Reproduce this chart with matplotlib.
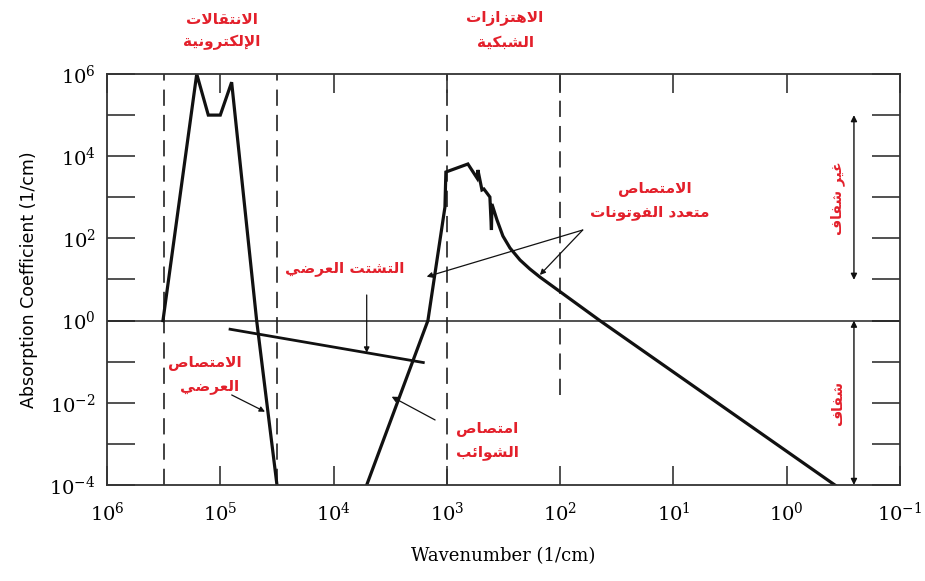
import numpy as np
import matplotlib
matplotlib.use("Agg")
import matplotlib.pyplot as plt
from matplotlib.ticker import FixedLocator, FuncFormatter, NullLocator

# ---------------- data ----------------
# electronic transitions + Urbach tail
elec_wn = [320600, 161400, 127600, 100000, 79400, 47750, 31600]
elec_abs = [1.0, 1.0e6, 1.0e5, 1.0e5, 6.31e5, 1.0, 1.0e-4]

# impurity absorption + lattice vibrations + multiphonon absorption
latt_wn = [5100, 1470, 1040, 1020, 652, 542, 532, 490, 471, 417, 404, 400,
           361, 320, 277, 226, 185, 151, 44.6, 0.376]
latt_abs = [1.0e-4, 1.0, 575, 4120, 6460, 2950, 4610, 1510, 1590, 1016, 160, 687,
            281, 114, 58.3, 29.8, 18.0, 11.5, 1.0, 1.0e-4]

# Rayleigh scattering
scat_wn = [82000, 1614]
scat_abs = [0.617, 0.0955]

# region borders (dashed)
border_wn = [316000, 31600, 1000, 100]
border_top = [1e6, 1e6, 1e6, 1e6]
border_bottom = [1e-4, 1e-4, 1e-4, 0.0155]

x_tick_exp = [6, 5, 4, 3, 2, 1, 0, -1]
y_tick_exp = [-4, -3, -2, -1, 0, 1, 2, 3, 4, 5, 6]
y_label_exp = [-4, -2, 0, 2, 4, 6]

# ---------------- minimal Arabic shaping ----------------
FORMS = {
    'ا': ('\uFE8D', '\uFE8E', None, None),
    'إ': ('\uFE87', '\uFE88', None, None),
    'ب': ('\uFE8F', '\uFE90', '\uFE91', '\uFE92'),
    'ة': ('\uFE93', '\uFE94', None, None),
    'ت': ('\uFE95', '\uFE96', '\uFE97', '\uFE98'),
    'د': ('\uFEA9', '\uFEAA', None, None),
    'ر': ('\uFEAD', '\uFEAE', None, None),
    'ز': ('\uFEAF', '\uFEB0', None, None),
    'ش': ('\uFEB5', '\uFEB6', '\uFEB7', '\uFEB8'),
    'ص': ('\uFEB9', '\uFEBA', '\uFEBB', '\uFEBC'),
    'ض': ('\uFEBD', '\uFEBE', '\uFEBF', '\uFEC0'),
    'ع': ('\uFEC9', '\uFECA', '\uFECB', '\uFECC'),
    'غ': ('\uFECD', '\uFECE', '\uFECF', '\uFED0'),
    'ف': ('\uFED1', '\uFED2', '\uFED3', '\uFED4'),
    'ق': ('\uFED5', '\uFED6', '\uFED7', '\uFED8'),
    'ك': ('\uFED9', '\uFEDA', '\uFEDB', '\uFEDC'),
    'ل': ('\uFEDD', '\uFEDE', '\uFEDF', '\uFEE0'),
    'م': ('\uFEE1', '\uFEE2', '\uFEE3', '\uFEE4'),
    'ن': ('\uFEE5', '\uFEE6', '\uFEE7', '\uFEE8'),
    'ه': ('\uFEE9', '\uFEEA', '\uFEEB', '\uFEEC'),
    'و': ('\uFEED', '\uFEEE', None, None),
    'ي': ('\uFEF1', '\uFEF2', '\uFEF3', '\uFEF4'),
    'ئ': ('\uFE89', '\uFE8A', '\uFE8B', '\uFE8C'),
    'لا': ('\uFEFB', '\uFEFC', None, None),
    'لإ': ('\uFEF9', '\uFEFA', None, None),
}


def shape(text):
    toks = []
    i = 0
    while i < len(text):
        if text[i] == 'ل' and i + 1 < len(text) and text[i + 1] in 'اإ':
            toks.append(text[i:i + 2])
            i += 2
        else:
            toks.append(text[i])
            i += 1
    joins = lambda t: t in FORMS
    dual = lambda t: t in FORMS and FORMS[t][2] is not None
    out = []
    for k, t in enumerate(toks):
        if t not in FORMS:
            out.append(t)
            continue
        prev = k > 0 and dual(toks[k - 1])
        nxt = dual(t) and k + 1 < len(toks) and joins(toks[k + 1])
        iso, fin, ini, med = FORMS[t]
        if prev and nxt:
            out.append(med)
        elif nxt:
            out.append(ini)
        elif prev:
            out.append(fin)
        else:
            out.append(iso)
    return ''.join(out)[::-1]


# ---------------- figure ----------------
plt.rcParams['mathtext.fontset'] = 'dejavuserif'
W, H = 925, 581
fig = plt.figure(figsize=(W / 100, H / 100), dpi=100)
ax = fig.add_axes([107 / W, 1 - 485 / H, (900 - 107) / W, (485 - 74) / H])
ax.set_xscale('log')
ax.set_yscale('log')
ax.set_xlim(1e6, 1e-1)
ax.set_ylim(1e-4, 1e6)

ink = '#111111'
red = '#e3202b'

for wn, yt, yb in zip(border_wn, border_top, border_bottom):
    ax.plot([wn, wn], [yb, yt], color='#333333', lw=1.3, dashes=(9, 5))

ax.axhline(1.0, color='#222222', lw=1.1)

ax.plot(elec_wn, elec_abs, color=ink, lw=2.3, solid_joinstyle='miter')
ax.plot(latt_wn, latt_abs, color=ink, lw=2.3, solid_joinstyle='miter')
ax.plot(scat_wn, scat_abs, color=ink, lw=2.0)

arrow = dict(arrowstyle='-|>', color=ink, lw=0.9, mutation_scale=8,
             shrinkA=0, shrinkB=0)
# scattering pointer
ax.annotate('', xy=(5100, 0.165), xytext=(5100, 4.2), arrowprops=arrow)
# Urbach pointer
ax.annotate('', xy=(40300, 0.00607), xytext=(79300, 0.0155), arrowprops=arrow)
# impurity pointer
ax.annotate('', xy=(3070, 0.0141), xytext=(1270, 0.00382), arrowprops=arrow)
# multiphonon pointers
ax.annotate('', xy=(1507, 11.7), xytext=(63.2, 160), arrowprops=arrow)
ax.annotate('', xy=(151, 12.9), xytext=(63.2, 160), arrowprops=arrow)

# transparent / opaque double arrows
darrow = dict(arrowstyle='<|-|>', color=ink, lw=1.0, mutation_scale=9,
              shrinkA=0, shrinkB=0)
ax.annotate('', xy=(0.255, 1e5), xytext=(0.255, 9.8), arrowprops=darrow)
ax.annotate('', xy=(0.255, 1.0), xytext=(0.255, 1e-4), arrowprops=darrow,
            annotation_clip=False)

# axes styling
for s in ax.spines.values():
    s.set_linewidth(1.3)
    s.set_color('#333333')
ax.xaxis.set_major_locator(FixedLocator([10.0 ** e for e in x_tick_exp]))
ax.xaxis.set_minor_locator(NullLocator())
ax.yaxis.set_major_locator(FixedLocator([10.0 ** e for e in y_tick_exp]))
ax.yaxis.set_minor_locator(NullLocator())
ax.xaxis.set_major_formatter(FuncFormatter(
    lambda v, p: r'$10^{%d}$' % round(np.log10(v))))
ax.yaxis.set_major_formatter(FuncFormatter(
    lambda v, p: (r'$10^{%d}$' % round(np.log10(v)))
    if round(np.log10(v)) in y_label_exp else ''))
ax.tick_params(axis='x', which='major', direction='in', length=14, width=1.2,
               top=True, labelsize=14, pad=12, color='#333333')
ax.tick_params(axis='y', which='major', direction='in', length=20, width=1.2,
               right=True, labelsize=14, pad=8, color='#333333')

ax.set_xlabel('Wavenumber (1/cm)', family='DejaVu Serif', fontsize=13,
              labelpad=16)
ax.set_ylabel('Absorption Coefficient (1/cm)', family='DejaVu Sans',
              fontsize=12.5, labelpad=8)


def atext(px, py, s, size=11, rot=0):
    fig.text(px / W, 1 - py / H, shape(s), color=red, fontsize=size,
             family='DejaVu Sans', weight='bold', ha='center', va='center',
             rotation=rot)


atext(222, 19, 'الانتقالات')
atext(222, 42, 'الإلكترونية')
atext(505, 19, 'الاهتزازات')
atext(505, 42, 'الشبكية')
atext(655, 188, 'الامتصاص')
atext(650, 212, 'متعدد الفوتونات')
atext(345, 268, 'التشتت العرضي')
atext(205, 362, 'الامتصاص')
atext(210, 386, 'العرضي')
atext(487, 428, 'امتصاص')
atext(487, 452, 'الشوائب')
atext(838, 198, 'غير شفاف', size=10, rot=90)
atext(838, 403, 'شفاف', size=10, rot=90)

fig.savefig('out.png', dpi=100)
